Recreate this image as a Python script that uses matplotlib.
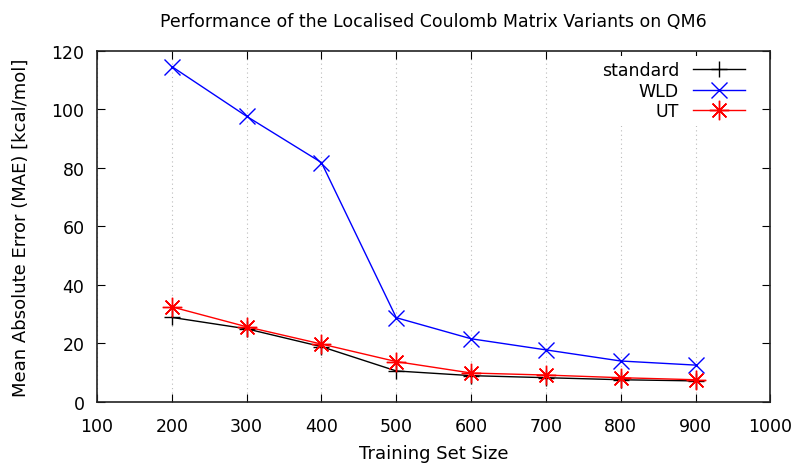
import matplotlib
matplotlib.use("Agg")
import matplotlib.pyplot as plt

# training set sizes
train_sizes = [200, 300, 400, 500, 600, 700, 800, 900]

# MAE values [kcal/mol]
mae_standard = [28.9, 25.0, 18.9, 10.6, 9.0, 8.3, 7.6, 7.2]
mae_wld = [114.6, 97.6, 81.8, 28.8, 21.6, 17.8, 14.0, 12.6]
mae_ut = [32.5, 25.7, 19.8, 13.8, 9.9, 9.2, 8.3, 7.6]

x_ticks = [100, 200, 300, 400, 500, 600, 700, 800, 900, 1000]
y_ticks = [0, 20, 40, 60, 80, 100, 120]

plt.rcParams["font.family"] = "DejaVu Sans"

fig = plt.figure(figsize=(7.95, 4.64), dpi=100)
ax = fig.add_axes([0.122, 0.1315, 0.847, 0.757])

ax.plot(train_sizes, mae_standard, color="black", linewidth=1.0,
        marker="+", markersize=12, markeredgewidth=1.0, label="standard")
ax.plot(train_sizes, mae_wld, color="blue", linewidth=1.0,
        marker="x", markersize=12, markeredgewidth=1.0, label="WLD")
ax.plot(train_sizes, mae_ut, color="red", linewidth=1.0,
        marker=(8, 2, 0), markersize=14, markeredgewidth=1.0, label="UT")

ax.set_xlim(100, 1000)
ax.set_ylim(0, 120)
ax.set_xticks(x_ticks)
ax.set_yticks(y_ticks)
ax.tick_params(direction="in", length=6, top=True, right=True,
               labelsize=12.5)
ax.tick_params(axis="x", pad=11)
ax.tick_params(axis="y", pad=9)
ax.xaxis.grid(True, linestyle=(0, (1, 3)), color="#bbbbbb", linewidth=0.8)
for s in ax.spines.values():
    s.set_linewidth(1.2)
    s.set_color("#222222")

ax.set_xlabel("Training Set Size", fontsize=13, labelpad=6)
ax.set_ylabel("Mean Absolute Error (MAE) [kcal/mol]", fontsize=13, labelpad=16)
ax.set_title("Performance of the Localised Coulomb Matrix Variants on QM6",
             fontsize=12.5, pad=18)

leg = ax.legend(loc="upper right", markerfirst=False, frameon=True,
                fontsize=12.5, handlelength=3.0, borderaxespad=0.0,
                borderpad=0.3, labelspacing=0.15, handletextpad=0.8,
                bbox_to_anchor=(0.97, 0.985))
leg.get_frame().set_edgecolor("none")
leg.get_frame().set_facecolor("white")
leg.get_frame().set_alpha(1.0)

fig.savefig("out.png", dpi=100)
